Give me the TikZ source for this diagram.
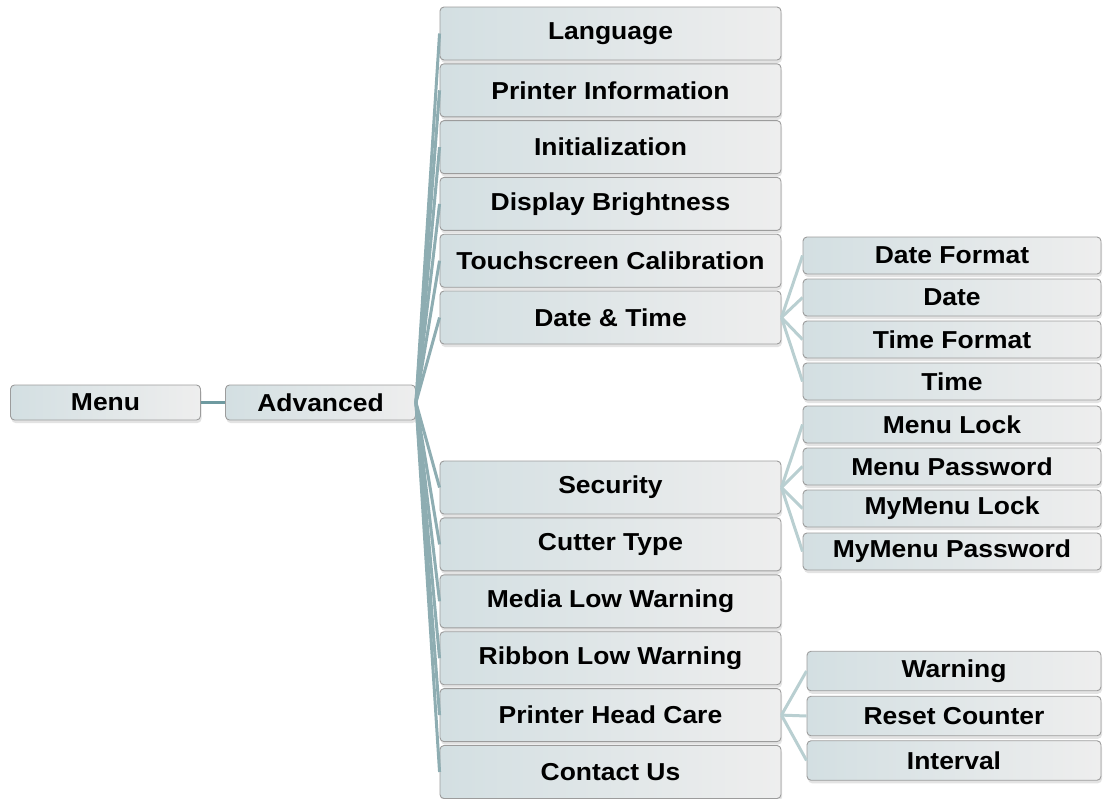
\documentclass[tikz,border=0pt]{standalone}
\usepackage{fontspec}
\setmainfont{Liberation Sans}[FakeStretch=1.08]
\usetikzlibrary{shadows}
\definecolor{boxL}{HTML}{D3DFE2}
\definecolor{boxR}{HTML}{EEEEEE}
\definecolor{boxB}{HTML}{9C9C9C}
\definecolor{lineA}{HTML}{6E9AA0}
\definecolor{lineB}{HTML}{8EADB2}
\definecolor{lineC}{HTML}{B9CFD1}
\tikzset{
  menubox/.style={draw=boxB, line width=0.9pt, rounded corners=4pt,
    left color=boxL, right color=boxR, inner sep=0pt, align=center,
    font=\fontsize{24.5}{28}\selectfont\bfseries,
    drop shadow={shadow xshift=1pt, shadow yshift=-3pt, opacity=0.18, fill=black!60}},
  lvone/.style={menubox, minimum width=190pt, minimum height=35pt},
  lvtwo/.style={menubox, minimum width=341pt, minimum height=53pt},
  lvthree/.style={menubox, minimum width=298pt, minimum height=37pt},
  lvfour/.style={menubox, minimum width=294pt, minimum height=39.5pt},
  conA/.style={draw=lineA, line width=3pt},
  conB/.style={draw=lineB, line width=3pt},
  conC/.style={draw=lineC, line width=3pt},
}
\begin{document}
\begin{tikzpicture}[x=1pt,y=-1pt]
\useasboundingbox (0,0) rectangle (1103,798);
\node[lvone] (menu) at (105.5,402.5) {Menu};
\node[lvone] (adv) at (320.5,402.5) {Advanced};
% level 2
\node[lvtwo] (lang) at (610.5,33.5) {Language};
\node[lvtwo] (pinfo) at (610.5,90.3) {Printer Information};
\node[lvtwo] (init) at (610.5,147.1) {Initialization};
\node[lvtwo] (disp) at (610.5,203.9) {Display Brightness};
\node[lvtwo] (touch) at (610.5,260.7) {Touchscreen Calibration};
\node[lvtwo] (dt) at (610.5,317.5) {Date \& Time};
\node[lvtwo] (sec) at (610.5,487.5) {Security};
\node[lvtwo] (cut) at (610.5,544.4) {Cutter Type};
\node[lvtwo] (media) at (610.5,601.3) {Media Low Warning};
\node[lvtwo] (ribbon) at (610.5,658.2) {Ribbon Low Warning};
\node[lvtwo] (head) at (610.5,715.1) {Printer Head Care};
\node[lvtwo] (contact) at (610.5,772) {Contact Us};
% level 3 date
\node[lvthree] (dfmt) at (952,255.5) {Date Format};
\node[lvthree] (date) at (952,297.5) {Date};
\node[lvthree] (tfmt) at (952,339.5) {Time Format};
\node[lvthree] (time) at (952,381.5) {Time};
% level 3 security
\node[lvthree] (mlock) at (952,424.5) {Menu Lock};
\node[lvthree] (mpass) at (952,466.5) {Menu Password};
\node[lvthree] (mylock) at (952,508.5) {MyMenu Lock};
\node[lvthree] (mypass) at (952,551.5) {MyMenu Password};
% level 3 head
\node[lvfour] (warn) at (954,671) {Warning};
\node[lvfour] (reset) at (954,716) {Reset Counter};
\node[lvfour] (intv) at (954,760.5) {Interval};
% connectors
\draw[conA] (menu.east) -- (adv.west);
\foreach \n in {lang,pinfo,init,disp,touch,dt,sec,cut,media,ribbon,head,contact}
  \draw[conB] (adv.east) -- (\n.west);
\foreach \n in {dfmt,date,tfmt,time}
  \draw[conC] (dt.east) -- (\n.west);
\foreach \n in {mlock,mpass,mylock,mypass}
  \draw[conC] (sec.east) -- (\n.west);
\foreach \n in {warn,reset,intv}
  \draw[conC] (head.east) -- (\n.west);
\end{tikzpicture}
\end{document}
